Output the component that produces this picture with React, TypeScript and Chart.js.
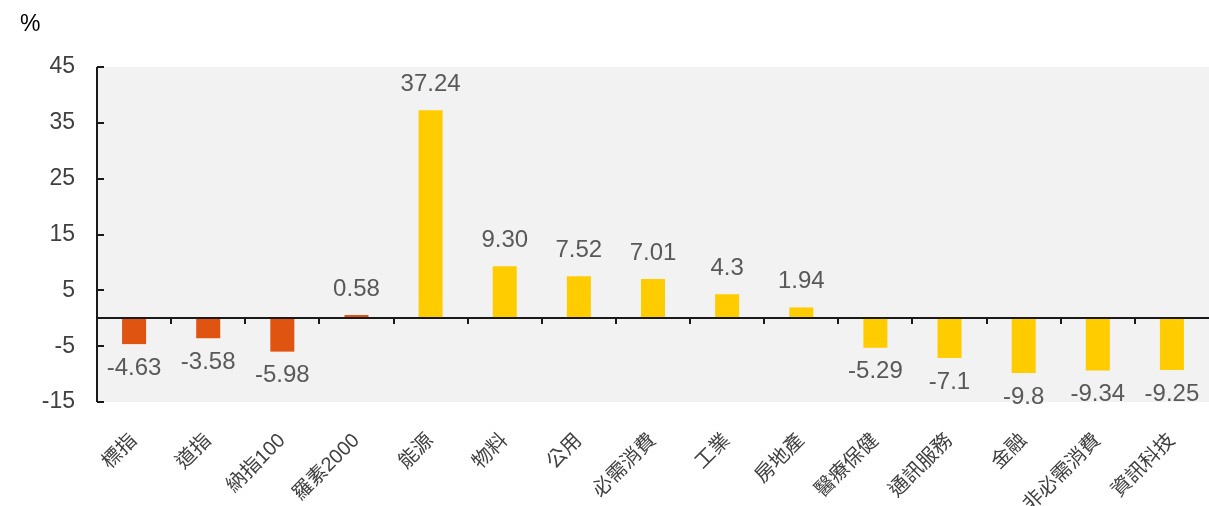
import React, { useEffect, useRef } from "react";
import { Chart, registerables } from "chart.js";

Chart.register(...registerables);

const categories = [
  "標指", "道指", "納指100", "羅素2000", "能源", "物料", "公用", "必需消費",
  "工業", "房地產", "醫療保健", "通訊服務", "金融", "非必需消費", "資訊科技",
];
const values = [-4.63, -3.58, -5.98, 0.58, 37.24, 9.3, 7.52, 7.01, 4.3, 1.94, -5.29, -7.1, -9.8, -9.34, -9.25];
const valueLabels = ["-4.63", "-3.58", "-5.98", "0.58", "37.24", "9.30", "7.52", "7.01", "4.3", "1.94", "-5.29", "-7.1", "-9.8", "-9.34", "-9.25"];
const groups = ["index", "index", "index", "index", "sector", "sector", "sector", "sector", "sector", "sector", "sector", "sector", "sector", "sector", "sector"];
const groupColors: Record<string, string> = { index: "#E05412", sector: "#FFCC00" };
const yMin = -15;
const yMax = 45;
const yStep = 10;

const FONT = '"Liberation Sans", "Noto Sans CJK TC", sans-serif';

const framePlugin = {
  id: "frame",
  beforeDraw(chart: any) {
    const { ctx, chartArea } = chart;
    ctx.save();
    ctx.fillStyle = "#F2F2F2";
    ctx.fillRect(chartArea.left, chartArea.top, chartArea.right - chartArea.left, chartArea.bottom - chartArea.top);
    ctx.restore();
  },
  afterDatasetsDraw(chart: any) {
    const { ctx, chartArea } = chart;
    const x = chart.scales.x;
    const y = chart.scales.y;
    ctx.save();
    ctx.strokeStyle = "#1a1a1a";
    ctx.lineWidth = 2;
    // y axis line
    ctx.beginPath();
    ctx.moveTo(chartArea.left, chartArea.top);
    ctx.lineTo(chartArea.left, chartArea.bottom);
    ctx.stroke();
    // y ticks (inward)
    y.ticks.forEach((t: any) => {
      const py = Math.round(y.getPixelForValue(t.value));
      ctx.beginPath();
      ctx.moveTo(chartArea.left, py);
      ctx.lineTo(chartArea.left + 7, py);
      ctx.stroke();
    });
    // zero line
    const zy = Math.round(y.getPixelForValue(0));
    ctx.beginPath();
    ctx.moveTo(chartArea.left, zy);
    ctx.lineTo(chartArea.right, zy);
    ctx.stroke();
    // category boundary ticks (downward)
    for (let i = 1; i < categories.length; i++) {
      const px = Math.round((x.getPixelForValue(i - 1) + x.getPixelForValue(i)) / 2);
      ctx.beginPath();
      ctx.moveTo(px, zy);
      ctx.lineTo(px, zy + 6);
      ctx.stroke();
    }
    // data labels
    const meta = chart.getDatasetMeta(0);
    ctx.fillStyle = "#595959";
    ctx.font = `24px ${FONT}`;
    ctx.textAlign = "center";
    meta.data.forEach((bar: any, i: number) => {
      const v = values[i];
      if (v >= 0) {
        ctx.textBaseline = "bottom";
        ctx.fillText(valueLabels[i], bar.x, bar.y - 14);
      } else {
        ctx.textBaseline = "top";
        ctx.fillText(valueLabels[i], bar.x, bar.y + 12);
      }
    });
    ctx.restore();
  },
};

export default function App() {
  const canvasRef = useRef<HTMLCanvasElement | null>(null);

  useEffect(() => {
    if (!canvasRef.current) return;
    const chart = new Chart(canvasRef.current, {
      type: "bar",
      data: {
        labels: categories,
        datasets: [
          {
            data: values,
            backgroundColor: groups.map((g) => groupColors[g]),
            barPercentage: 1,
            categoryPercentage: 0.324,
          },
        ],
      },
      options: {
        responsive: false,
        animation: false,
        layout: { padding: { top: 67, left: 0, right: 0, bottom: 0 } },
        plugins: {
          legend: { display: false },
          tooltip: { enabled: false },
          title: { display: false },
        },
        scales: {
          x: {
            grid: { display: false, drawTicks: false },
            border: { display: false },
            ticks: {
              maxRotation: 45,
              minRotation: 45,
              padding: 27,
              color: "#404040",
              font: { family: FONT, size: 20 },
              autoSkip: false,
            },
            afterFit(scale: any) {
              scale.height = 104;
              scale.paddingLeft = 0;
              scale.paddingRight = 0;
            },
          },
          y: {
            min: yMin,
            max: yMax,
            grid: { display: false, drawTicks: false },
            border: { display: false },
            ticks: {
              stepSize: yStep,
              padding: 22,
              color: "#404040",
              font: { family: FONT, size: 23 },
            },
            afterFit(scale: any) {
              scale.width = 97;
            },
          },
        },
      },
      plugins: [framePlugin],
    });
    return () => chart.destroy();
  }, []);

  return (
    <div style={{ position: "fixed", left: 0, top: 0, width: 1209, height: 506, background: "#fff" }}>
      <div
        style={{
          position: "absolute",
          left: 20,
          top: 8,
          fontFamily: FONT,
          fontSize: 23,
          color: "#000",
          lineHeight: "30px",
        }}
      >
        %
      </div>
      <canvas ref={canvasRef} width={1209} height={506} style={{ display: "block" }} />
    </div>
  );
}
